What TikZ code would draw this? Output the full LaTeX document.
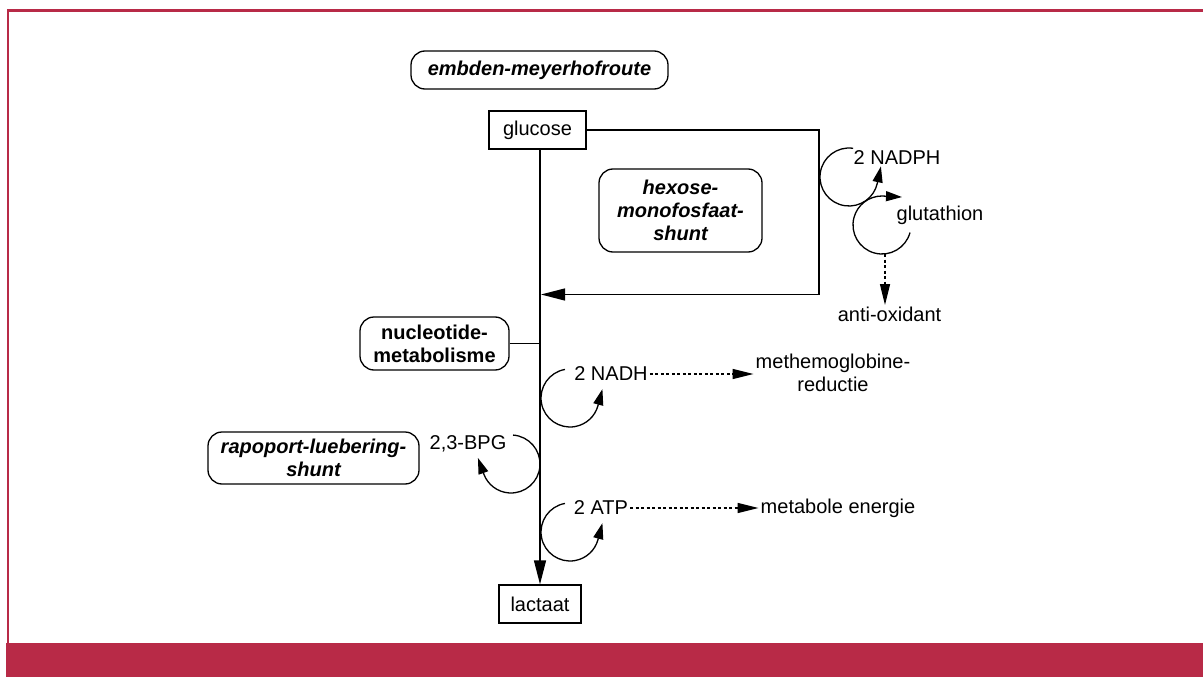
\documentclass[tikz,border=0pt]{standalone}
\usepackage{fontspec}
\setmainfont{Liberation Sans}
\usetikzlibrary{arrows.meta,positioning,calc}
\definecolor{kaderrood}{HTML}{B82A47}

\begin{document}
\begin{tikzpicture}[x=1pt,y=1pt,line width=1.3pt,
    >={Triangle[length=24pt,width=12pt]},
    every node/.style={font=\fontsize{20}{23}\selectfont, inner sep=1.5pt}]
            \tikzstyle{stof}=[draw, rectangle, minimum height=38pt]
            \tikzstyle{route}=[draw, rounded corners=14pt, align=center,
            font=\fontsize{20}{23}\selectfont\bfseries\itshape]
            \tikzstyle{kring}=[-{Triangle[length=16pt,width=10pt]}]
            \tikzstyle{gevolg}=[dash pattern=on 3pt off 2.5pt,
            -{Triangle[length=21pt,width=10pt]}]
            \useasboundingbox (0,0) rectangle (1203,-677);
            % kader
            \fill[kaderrood] (6,-643) rectangle (1203,-677);
            \draw[kaderrood, line width=2.5pt] (8,-643) |- (1203,-10.5);
            %   emr
            %   glucose ---- hms ---+   nadph / gsh
            %   nucl -|             |   anti
            %         | nadh ---> methb
            %   rls   bpg
            %         | atp ---> energie
            %   lactaat
            \node[route, minimum width=257pt, minimum height=38pt] (emr) at (539.5,-70) {embden-meyerhofroute};
            \node[stof, minimum width=97pt] (glucose) at (537.5,-130) {glucose};
            \node[stof, minimum width=82pt] (lactaat) at (540,-604) {lactaat};
            \node[route, minimum width=163pt, minimum height=83pt] (hms) at (680.5,-210.5) {hexose-\\monofosfaat-\\shunt};
            \node[route, minimum width=149pt, minimum height=53pt,
                  font=\fontsize{20}{23}\selectfont\bfseries] (nucl) at (434.5,-343.5) {nucleotide-\\metabolisme};
            \node[route, minimum width=211pt, minimum height=52pt] (rls) at (313.5,-458) {rapoport-luebering-\\shunt};

            \node (nadph) at (897,-158) {2 NADPH};
            \node (gsh) at (940,-215) {glutathion};
            \node (anti) at (889.5,-314.5) {anti-oxidant};
            \node (nadh) at (611,-374) {2 NADH};
            \node[align=center] (methb) at (833,-372.5) {methemoglobine-\\reductie};
            \node (bpg) at (468,-444) {2,3-BPG};
            \node (atp) at (601,-508) {2 ATP};
            \node (energie) at (838,-508) {metabole energie};

            \coordinate (hmshoek) at (819,-294.5);
            \coordinate (hmsin) at (541,-294.5);
            \coordinate (nadphc) at (849,-177);
            \coordinate (gshc) at (882,-225);
            \coordinate (gshbot) at (885,-254);
            \coordinate (nadhc) at (570,-398);
            \coordinate (bpgc) at (511,-464);
            \coordinate (atpc) at (570,-532);

            \draw[->] (lactaat.north |- glucose.south) -- (lactaat.north);
            \draw[->] (glucose.east) -| (hmshoek) -- (hmsin);
            \draw (nucl.east) -- (nucl.east -| lactaat.north);

            % kringen: boog en dan een korte rechte pijl
            \draw[kring] ([shift={(82:29)}]nadphc) arc[start angle=82, end angle=348, radius=29] -- ++(78:17);
            \draw[kring] ([shift={(-15:29)}]gshc) arc[start angle=-15, end angle=-270, radius=29] -- ++(-3:20);
            \draw[kring] ([shift={(100:29)}]nadhc) arc[start angle=100, end angle=345, radius=29] -- ++(75:17);
            \draw[kring] ([shift={(86:29)}]bpgc) arc[start angle=86, end angle=-160, radius=29] -- ++(110:17);
            \draw[kring] ([shift={(100:29)}]atpc) arc[start angle=100, end angle=345, radius=29] -- ++(75:17);

            \draw[gevolg] (nadh.east) -- (nadh.east -| methb.west);
            \draw[gevolg] (atp.east) -- (energie.west);
            \draw[gevolg] (gshbot) -- (gshbot |- anti.north);
\end{tikzpicture}
\end{document}
